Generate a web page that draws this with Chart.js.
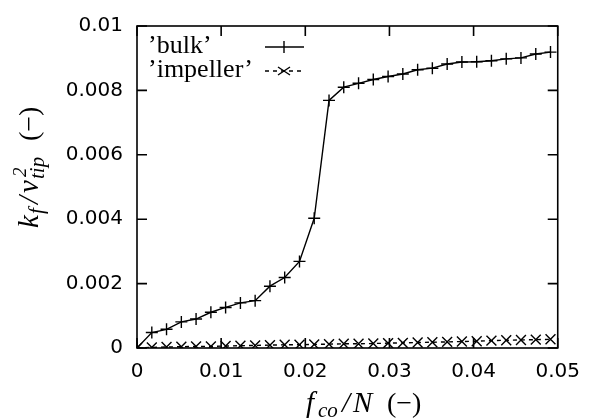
<!DOCTYPE html>
<html><head><meta charset="utf-8">
<script src="https://cdn.jsdelivr.net/npm/chart.js@4/dist/chart.umd.min.js"></script>
<style>html,body{margin:0;padding:0;background:#fff}#wrap{width:592px;height:420px}</style>
</head><body><div id="wrap"><canvas id="c" width="592" height="420"></canvas></div>
<script>
const xValues = [0, 0.00176, 0.00351, 0.00527, 0.00702, 0.00878, 0.01053, 0.01229, 0.01404, 0.0158, 0.01755, 0.01931, 0.02106, 0.02282, 0.02457, 0.02633, 0.02808, 0.02984, 0.03159, 0.03335, 0.0351, 0.03686, 0.03861, 0.04037, 0.04212, 0.04388, 0.04563, 0.04739, 0.04914];
const bulk = [0, 0.00048, 0.00058, 0.00081, 0.0009, 0.00111, 0.00126, 0.0014, 0.00147, 0.00192, 0.00219, 0.00269, 0.00403, 0.00769, 0.0081, 0.00822, 0.00834, 0.00843, 0.00851, 0.00864, 0.00869, 0.00882, 0.00888, 0.00889, 0.00892, 0.00898, 0.00901, 0.00913, 0.00919];
const impeller = [0, 0.00002, 0.00003, 0.00004, 0.00005, 0.00005, 0.00006, 0.00007, 0.00008, 0.00009, 0.0001, 0.0001, 0.00011, 0.00012, 0.00013, 0.00013, 0.00014, 0.00015, 0.00016, 0.00017, 0.00018, 0.00019, 0.0002, 0.00021, 0.00023, 0.00024, 0.00025, 0.00026, 0.00027];
const xTickLabels = ['0', '0.01', '0.02', '0.03', '0.04', '0.05'];
const yTickLabels = ['0', '0.002', '0.004', '0.006', '0.008', '0.01'];
const seriesNames = ['\u2019bulk\u2019', '\u2019impeller\u2019'];

const toPts = ys => ys.map((y, i) => ({x: xValues[i], y: y}));

const TICKFONT = {family: 'DejaVu Sans', size: 20};

// segment: [text, fontSize, italic, alongOffset, perpendicularOffset]
function drawSegs(ctx, segs) {
  for (const s of segs) {
    ctx.font = (s[2] ? 'italic ' : '') + s[1] + 'px "Liberation Serif"';
    ctx.fillText(s[0], s[3], s[4]);
  }
}

const framePlugin = {
  id: 'frame',
  afterDatasetsDraw(chart) {
    const {ctx, chartArea: a, scales} = chart;
    ctx.save();
    ctx.strokeStyle = '#000';
    ctx.lineWidth = 1.6;
    ctx.strokeRect(a.left, a.top, a.right - a.left, a.bottom - a.top);
    const TL = 10;
    ctx.beginPath();
    scales.x.ticks.forEach(t => {
      const px = scales.x.getPixelForValue(t.value);
      ctx.moveTo(px, a.bottom); ctx.lineTo(px, a.bottom - TL);
      ctx.moveTo(px, a.top); ctx.lineTo(px, a.top + TL);
    });
    scales.y.ticks.forEach(t => {
      const py = scales.y.getPixelForValue(t.value);
      ctx.moveTo(a.left, py); ctx.lineTo(a.left + TL, py);
      ctx.moveTo(a.right, py); ctx.lineTo(a.right - TL, py);
    });
    ctx.stroke();

    // legend
    ctx.fillStyle = '#000';
    ctx.textBaseline = 'alphabetic';
    ctx.font = '26px "Liberation Serif"';
    ctx.fillText(seriesNames[0], a.left + 11, 53);
    ctx.fillText(seriesNames[1], a.left + 11, 77);
    const lx0 = 265, lx1 = 304, lmx = 284;
    ctx.lineWidth = 1.4;
    ctx.beginPath(); ctx.moveTo(lx0, 47); ctx.lineTo(lx1, 47); ctx.stroke();
    ctx.beginPath(); ctx.moveTo(lmx, 41); ctx.lineTo(lmx, 53); ctx.stroke();
    ctx.setLineDash([4, 4]);
    ctx.beginPath(); ctx.moveTo(lx0, 71); ctx.lineTo(lx1, 71); ctx.stroke();
    ctx.setLineDash([]);
    ctx.beginPath();
    ctx.moveTo(lmx - 6, 67); ctx.lineTo(lmx + 6, 75);
    ctx.moveTo(lmx - 6, 75); ctx.lineTo(lmx + 6, 67);
    ctx.stroke();

    // x title: f_co / N (−)
    ctx.save();
    ctx.translate(306, 412);
    drawSegs(ctx, [
      ['f', 29, true, 0, 0],
      ['co', 21, true, 12, 5],
      ['/', 29, true, 36, 0],
      ['N', 29, true, 47, 0],
      ['(\u2212)', 28, false, 81, 0]
    ]);
    ctx.restore();

    // y title rotated: k_f / v_tip^2 (−)
    ctx.save();
    ctx.translate(38, 228);
    ctx.rotate(-Math.PI / 2);
    drawSegs(ctx, [
      ['k', 29, true, 0, 0],
      ['f', 21, true, 14, 5],
      ['/', 29, true, 24, 0],
      ['v', 29, true, 35, 0],
      ['2', 19, true, 51, -12],
      ['tip', 21, true, 49, 6],
      ['(\u2212)', 28, false, 87, 0]
    ]);
    ctx.restore();
    ctx.restore();
  }
};

new Chart(document.getElementById('c'), {
  type: 'line',
  data: {
    datasets: [
      {label: seriesNames[0], data: toPts(bulk), borderColor: '#000', backgroundColor: '#000', borderWidth: 1.4,
       pointStyle: 'cross', pointRadius: 6, pointBorderWidth: 1.4, pointBorderColor: '#000', tension: 0, fill: false},
      {label: seriesNames[1], data: toPts(impeller), borderColor: '#000', backgroundColor: '#000', borderWidth: 1.4, borderDash: [4, 4],
       pointStyle: 'crossRot', pointRadius: 7, pointBorderWidth: 1.4, pointBorderColor: '#000', tension: 0, fill: false}
    ]
  },
  options: {
    responsive: false,
    animation: false,
    devicePixelRatio: 1,
    layout: {padding: {left: 0, right: 23, top: 24, bottom: 0}},
    plugins: {legend: {display: false}, tooltip: {enabled: false}},
    scales: {
      x: {
        type: 'linear', min: 0, max: 0.05,
        grid: {display: false, drawTicks: false}, border: {display: false},
        ticks: {stepSize: 0.01, color: '#000', font: TICKFONT, padding: 12, maxRotation: 0,
                callback: (v, i) => xTickLabels[i]},
        afterFit: s => { s.height = 72; }
      },
      y: {
        type: 'linear', min: 0, max: 0.01,
        grid: {display: false, drawTicks: false}, border: {display: false},
        ticks: {stepSize: 0.002, color: '#000', font: TICKFONT, padding: 14,
                callback: (v, i) => yTickLabels[i]},
        afterFit: s => { s.width = 137; }
      }
    }
  },
  plugins: [framePlugin]
});
</script></body></html>
